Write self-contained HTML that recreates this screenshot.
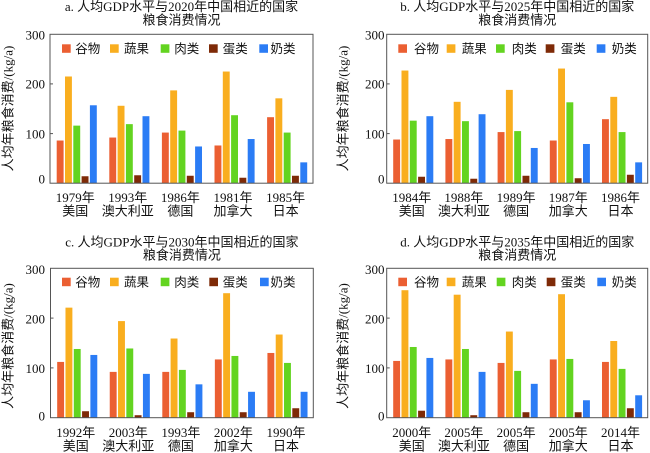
<!DOCTYPE html>
<html><head><meta charset="utf-8">
<style>
html,body{margin:0;padding:0;background:#fff;}
body{width:650px;height:453px;overflow:hidden;}
svg{display:block;}
.r{fill:#EB5F32}.o{fill:#F9AE1F}.g{fill:#63D420}.b{fill:#7E2A07}.u{fill:#2B7CF5}
text{fill:#111;}
.t{font-size:13px;}
.lg{font-size:12.5px;}
.tk{font-size:13px;}
.fr{fill:none;stroke:#555;stroke-width:1;}
.tl{stroke:#555;stroke-width:1;}
</style></head>
<body>
<svg width="650" height="453" viewBox="0 0 650 453" font-family='"Liberation Serif","Noto Sans CJK SC",serif'>

<!-- ============ Panel a ============ -->
<text class="t" x="181.5" y="11" text-anchor="middle">a. 人均GDP水平与2020年中国相近的国家</text>
<text class="t" x="181.5" y="24.5" text-anchor="middle">粮食消费情况</text>
<g transform="translate(76.3,183.2) scale(1,-0.4963)">
 <g transform="translate(0,0)"><rect class="r" x="-19.6" y="0" width="6.9" height="86"/><rect class="o" x="-11.3" y="0" width="6.9" height="215"/><rect class="g" x="-3" y="0" width="6.9" height="116"/><rect class="b" x="5.3" y="0" width="6.9" height="14"/><rect class="u" x="13.6" y="0" width="6.9" height="157"/></g>
 <g transform="translate(52.6,0)"><rect class="r" x="-19.6" y="0" width="6.9" height="92"/><rect class="o" x="-11.3" y="0" width="6.9" height="156"/><rect class="g" x="-3" y="0" width="6.9" height="119"/><rect class="b" x="5.3" y="0" width="6.9" height="16"/><rect class="u" x="13.6" y="0" width="6.9" height="135"/></g>
 <g transform="translate(105.2,0)"><rect class="r" x="-19.6" y="0" width="6.9" height="102"/><rect class="o" x="-11.3" y="0" width="6.9" height="187"/><rect class="g" x="-3" y="0" width="6.9" height="106"/><rect class="b" x="5.3" y="0" width="6.9" height="15"/><rect class="u" x="13.6" y="0" width="6.9" height="74"/></g>
 <g transform="translate(157.8,0)"><rect class="r" x="-19.6" y="0" width="6.9" height="76"/><rect class="o" x="-11.3" y="0" width="6.9" height="225"/><rect class="g" x="-3" y="0" width="6.9" height="137"/><rect class="b" x="5.3" y="0" width="6.9" height="11"/><rect class="u" x="13.6" y="0" width="6.9" height="89"/></g>
 <g transform="translate(210.4,0)"><rect class="r" x="-19.6" y="0" width="6.9" height="133"/><rect class="o" x="-11.3" y="0" width="6.9" height="171"/><rect class="g" x="-3" y="0" width="6.9" height="102"/><rect class="b" x="5.3" y="0" width="6.9" height="15"/><rect class="u" x="13.6" y="0" width="6.9" height="42"/></g>
</g>
<rect class="fr" x="50" y="34.3" width="263" height="148.9"/>
<line class="tl" x1="50" y1="133.6" x2="53" y2="133.6"/><line class="tl" x1="50" y1="83.9" x2="53" y2="83.9"/>
<text class="tk" x="45" y="39.5" text-anchor="end">300</text>
<text class="tk" x="45" y="88.6" text-anchor="end">200</text>
<text class="tk" x="45" y="138.3" text-anchor="end">100</text>
<text class="tk" x="45" y="183.3" text-anchor="end">0</text>
<text class="t" transform="translate(12.4,108.5) rotate(-90)" text-anchor="middle">人均年粮食消费/(kg/a)</text>
<rect class="r" x="62" y="44.3" width="8.7" height="8.5"/><text class="lg" x="75.3" y="53">谷物</text>
<rect class="o" x="110" y="44.3" width="8.7" height="8.5"/><text class="lg" x="124" y="53">蔬果</text>
<rect class="g" x="160.7" y="44.3" width="8.7" height="8.5"/><text class="lg" x="174.3" y="53">肉类</text>
<rect class="b" x="209" y="44.3" width="8.7" height="8.5"/><text class="lg" x="222.7" y="53">蛋类</text>
<rect class="u" x="259.3" y="44.3" width="8.7" height="8.5"/><text class="lg" x="270.5" y="53">奶类</text>
<g class="tk" text-anchor="middle">
<text x="75.2" y="202">1979年</text><text x="75.2" y="215.5">美国</text>
<text x="127.8" y="202">1993年</text><text x="127.8" y="215.5">澳大利亚</text>
<text x="180.4" y="202">1986年</text><text x="180.4" y="215.5">德国</text>
<text x="233" y="202">1981年</text><text x="233" y="215.5">加拿大</text>
<text x="285.6" y="202">1985年</text><text x="285.6" y="215.5">日本</text>
</g>

<!-- ============ Panel b ============ -->
<text class="t" x="517.2" y="11" text-anchor="middle">b. 人均GDP水平与2025年中国相近的国家</text>
<text class="t" x="517.2" y="24.5" text-anchor="middle">粮食消费情况</text>
<g transform="translate(412.8,183.2) scale(1,-0.4963)">
 <g transform="translate(0,0)"><rect class="r" x="-19.6" y="0" width="6.9" height="88"/><rect class="o" x="-11.3" y="0" width="6.9" height="227"/><rect class="g" x="-3" y="0" width="6.9" height="126"/><rect class="b" x="5.3" y="0" width="6.9" height="13"/><rect class="u" x="13.6" y="0" width="6.9" height="135"/></g>
 <g transform="translate(52.2,0)"><rect class="r" x="-19.6" y="0" width="6.9" height="89"/><rect class="o" x="-11.3" y="0" width="6.9" height="164"/><rect class="g" x="-3" y="0" width="6.9" height="125"/><rect class="b" x="5.3" y="0" width="6.9" height="9"/><rect class="u" x="13.6" y="0" width="6.9" height="139"/></g>
 <g transform="translate(104.4,0)"><rect class="r" x="-19.6" y="0" width="6.9" height="103"/><rect class="o" x="-11.3" y="0" width="6.9" height="188"/><rect class="g" x="-3" y="0" width="6.9" height="105"/><rect class="b" x="5.3" y="0" width="6.9" height="15"/><rect class="u" x="13.6" y="0" width="6.9" height="71"/></g>
 <g transform="translate(156.6,0)"><rect class="r" x="-19.6" y="0" width="6.9" height="86"/><rect class="o" x="-11.3" y="0" width="6.9" height="231"/><rect class="g" x="-3" y="0" width="6.9" height="163"/><rect class="b" x="5.3" y="0" width="6.9" height="10"/><rect class="u" x="13.6" y="0" width="6.9" height="79"/></g>
 <g transform="translate(208.8,0)"><rect class="r" x="-19.6" y="0" width="6.9" height="129"/><rect class="o" x="-11.3" y="0" width="6.9" height="174"/><rect class="g" x="-3" y="0" width="6.9" height="103"/><rect class="b" x="5.3" y="0" width="6.9" height="17"/><rect class="u" x="13.6" y="0" width="6.9" height="42"/></g>
</g>
<rect class="fr" x="386.7" y="34.3" width="261" height="148.9"/>
<line class="tl" x1="386.7" y1="133.6" x2="389.7" y2="133.6"/><line class="tl" x1="386.7" y1="83.9" x2="389.7" y2="83.9"/>
<text class="tk" x="384.5" y="39.5" text-anchor="end">300</text>
<text class="tk" x="384.5" y="88.6" text-anchor="end">200</text>
<text class="tk" x="384.5" y="138.3" text-anchor="end">100</text>
<text class="tk" x="384.5" y="183.3" text-anchor="end">0</text>
<text class="t" transform="translate(347.4,108.5) rotate(-90)" text-anchor="middle">人均年粮食消费/(kg/a)</text>
<rect class="r" x="398.3" y="44.3" width="8.7" height="8.5"/><text class="lg" x="414" y="53">谷物</text>
<rect class="o" x="446.7" y="44.3" width="8.7" height="8.5"/><text class="lg" x="461.7" y="53">蔬果</text>
<rect class="g" x="496" y="44.3" width="8.7" height="8.5"/><text class="lg" x="511.7" y="53">肉类</text>
<rect class="b" x="545.7" y="44.3" width="8.7" height="8.5"/><text class="lg" x="560.7" y="53">蛋类</text>
<rect class="u" x="596.7" y="44.3" width="8.7" height="8.5"/><text class="lg" x="611.7" y="53">奶类</text>
<g class="tk" text-anchor="middle">
<text x="411.7" y="202">1984年</text><text x="411.7" y="215.5">美国</text>
<text x="463.9" y="202">1988年</text><text x="463.9" y="215.5">澳大利亚</text>
<text x="516.1" y="202">1989年</text><text x="516.1" y="215.5">德国</text>
<text x="568.3" y="202">1987年</text><text x="568.3" y="215.5">加拿大</text>
<text x="620.5" y="202">1986年</text><text x="620.5" y="215.5">日本</text>
</g>

<!-- ============ Panel c ============ -->
<text class="t" x="181.9" y="246.5" text-anchor="middle">c. 人均GDP水平与2030年中国相近的国家</text>
<text class="t" x="181.9" y="259.5" text-anchor="middle">粮食消费情况</text>
<g transform="translate(76.78,417.7) scale(1,-0.498)">
 <g transform="translate(0,0)"><rect class="r" x="-19.6" y="0" width="6.9" height="112"/><rect class="o" x="-11.3" y="0" width="6.9" height="221"/><rect class="g" x="-3" y="0" width="6.9" height="138"/><rect class="b" x="5.3" y="0" width="6.9" height="13"/><rect class="u" x="13.6" y="0" width="6.9" height="126"/></g>
 <g transform="translate(52.56,0)"><rect class="r" x="-19.6" y="0" width="6.9" height="92"/><rect class="o" x="-11.3" y="0" width="6.9" height="194"/><rect class="g" x="-3" y="0" width="6.9" height="139"/><rect class="b" x="5.3" y="0" width="6.9" height="5"/><rect class="u" x="13.6" y="0" width="6.9" height="88"/></g>
 <g transform="translate(105.12,0)"><rect class="r" x="-19.6" y="0" width="6.9" height="92"/><rect class="o" x="-11.3" y="0" width="6.9" height="159"/><rect class="g" x="-3" y="0" width="6.9" height="96"/><rect class="b" x="5.3" y="0" width="6.9" height="11"/><rect class="u" x="13.6" y="0" width="6.9" height="67"/></g>
 <g transform="translate(157.68,0)"><rect class="r" x="-19.6" y="0" width="6.9" height="117"/><rect class="o" x="-11.3" y="0" width="6.9" height="250"/><rect class="g" x="-3" y="0" width="6.9" height="124"/><rect class="b" x="5.3" y="0" width="6.9" height="11"/><rect class="u" x="13.6" y="0" width="6.9" height="52"/></g>
 <g transform="translate(210.24,0)"><rect class="r" x="-19.6" y="0" width="6.9" height="130"/><rect class="o" x="-11.3" y="0" width="6.9" height="167"/><rect class="g" x="-3" y="0" width="6.9" height="110"/><rect class="b" x="5.3" y="0" width="6.9" height="19"/><rect class="u" x="13.6" y="0" width="6.9" height="52"/></g>
</g>
<rect class="fr" x="50.5" y="268.3" width="262.8" height="149.4"/>
<line class="tl" x1="50.5" y1="367.9" x2="53.5" y2="367.9"/><line class="tl" x1="50.5" y1="318.1" x2="53.5" y2="318.1"/>
<text class="tk" x="45" y="274" text-anchor="end">300</text>
<text class="tk" x="45" y="323.5" text-anchor="end">200</text>
<text class="tk" x="45" y="373" text-anchor="end">100</text>
<text class="tk" x="45" y="420.5" text-anchor="end">0</text>
<text class="t" transform="translate(12.4,346) rotate(-90)" text-anchor="middle">人均年粮食消费/(kg/a)</text>
<rect class="r" x="62" y="277.7" width="8.7" height="8.5"/><text class="lg" x="75.3" y="286.5">谷物</text>
<rect class="o" x="110" y="277.7" width="8.7" height="8.5"/><text class="lg" x="124" y="286.5">蔬果</text>
<rect class="g" x="160.7" y="277.7" width="8.7" height="8.5"/><text class="lg" x="174.3" y="286.5">肉类</text>
<rect class="b" x="209.3" y="277.7" width="8.7" height="8.5"/><text class="lg" x="222.7" y="286.5">蛋类</text>
<rect class="u" x="260" y="277.7" width="8.7" height="8.5"/><text class="lg" x="270.5" y="286.5">奶类</text>
<g class="tk" text-anchor="middle">
<text x="75.7" y="437">1992年</text><text x="75.7" y="450.5">美国</text>
<text x="128.3" y="437">2003年</text><text x="128.3" y="450.5">澳大利亚</text>
<text x="180.9" y="437">1993年</text><text x="180.9" y="450.5">德国</text>
<text x="233.4" y="437">2002年</text><text x="233.4" y="450.5">加拿大</text>
<text x="286" y="437">1990年</text><text x="286" y="450.5">日本</text>
</g>

<!-- ============ Panel d ============ -->
<text class="t" x="517.2" y="246.5" text-anchor="middle">d. 人均GDP水平与2035年中国相近的国家</text>
<text class="t" x="517.2" y="259.5" text-anchor="middle">粮食消费情况</text>
<g transform="translate(412.8,417.7) scale(1,-0.498)">
 <g transform="translate(0,0)"><rect class="r" x="-19.6" y="0" width="6.9" height="114"/><rect class="o" x="-11.3" y="0" width="6.9" height="256"/><rect class="g" x="-3" y="0" width="6.9" height="142"/><rect class="b" x="5.3" y="0" width="6.9" height="14"/><rect class="u" x="13.6" y="0" width="6.9" height="120"/></g>
 <g transform="translate(52.2,0)"><rect class="r" x="-19.6" y="0" width="6.9" height="117"/><rect class="o" x="-11.3" y="0" width="6.9" height="247"/><rect class="g" x="-3" y="0" width="6.9" height="138"/><rect class="b" x="5.3" y="0" width="6.9" height="5"/><rect class="u" x="13.6" y="0" width="6.9" height="92"/></g>
 <g transform="translate(104.4,0)"><rect class="r" x="-19.6" y="0" width="6.9" height="110"/><rect class="o" x="-11.3" y="0" width="6.9" height="173"/><rect class="g" x="-3" y="0" width="6.9" height="94"/><rect class="b" x="5.3" y="0" width="6.9" height="11"/><rect class="u" x="13.6" y="0" width="6.9" height="68"/></g>
 <g transform="translate(156.6,0)"><rect class="r" x="-19.6" y="0" width="6.9" height="117"/><rect class="o" x="-11.3" y="0" width="6.9" height="248"/><rect class="g" x="-3" y="0" width="6.9" height="118"/><rect class="b" x="5.3" y="0" width="6.9" height="11"/><rect class="u" x="13.6" y="0" width="6.9" height="35"/></g>
 <g transform="translate(208.8,0)"><rect class="r" x="-19.6" y="0" width="6.9" height="112"/><rect class="o" x="-11.3" y="0" width="6.9" height="154"/><rect class="g" x="-3" y="0" width="6.9" height="98"/><rect class="b" x="5.3" y="0" width="6.9" height="19"/><rect class="u" x="13.6" y="0" width="6.9" height="45"/></g>
</g>
<rect class="fr" x="386.7" y="268.3" width="261" height="149.4"/>
<line class="tl" x1="386.7" y1="367.9" x2="389.7" y2="367.9"/><line class="tl" x1="386.7" y1="318.1" x2="389.7" y2="318.1"/>
<text class="tk" x="384.5" y="274" text-anchor="end">300</text>
<text class="tk" x="384.5" y="323.5" text-anchor="end">200</text>
<text class="tk" x="384.5" y="373" text-anchor="end">100</text>
<text class="tk" x="384.5" y="420.5" text-anchor="end">0</text>
<text class="t" transform="translate(347.4,346) rotate(-90)" text-anchor="middle">人均年粮食消费/(kg/a)</text>
<rect class="r" x="398.3" y="277.7" width="8.7" height="8.5"/><text class="lg" x="414" y="286.5">谷物</text>
<rect class="o" x="446.7" y="277.7" width="8.7" height="8.5"/><text class="lg" x="461.7" y="286.5">蔬果</text>
<rect class="g" x="496.7" y="277.7" width="8.7" height="8.5"/><text class="lg" x="511.7" y="286.5">肉类</text>
<rect class="b" x="546.7" y="277.7" width="8.7" height="8.5"/><text class="lg" x="560.7" y="286.5">蛋类</text>
<rect class="u" x="597.3" y="277.7" width="8.7" height="8.5"/><text class="lg" x="611.7" y="286.5">奶类</text>
<g class="tk" text-anchor="middle">
<text x="411.7" y="437">2000年</text><text x="411.7" y="450.5">美国</text>
<text x="463.9" y="437">2005年</text><text x="463.9" y="450.5">澳大利亚</text>
<text x="516.1" y="437">2005年</text><text x="516.1" y="450.5">德国</text>
<text x="568.3" y="437">2005年</text><text x="568.3" y="450.5">加拿大</text>
<text x="620.5" y="437">2014年</text><text x="620.5" y="450.5">日本</text>
</g>
</svg>
</body></html>
